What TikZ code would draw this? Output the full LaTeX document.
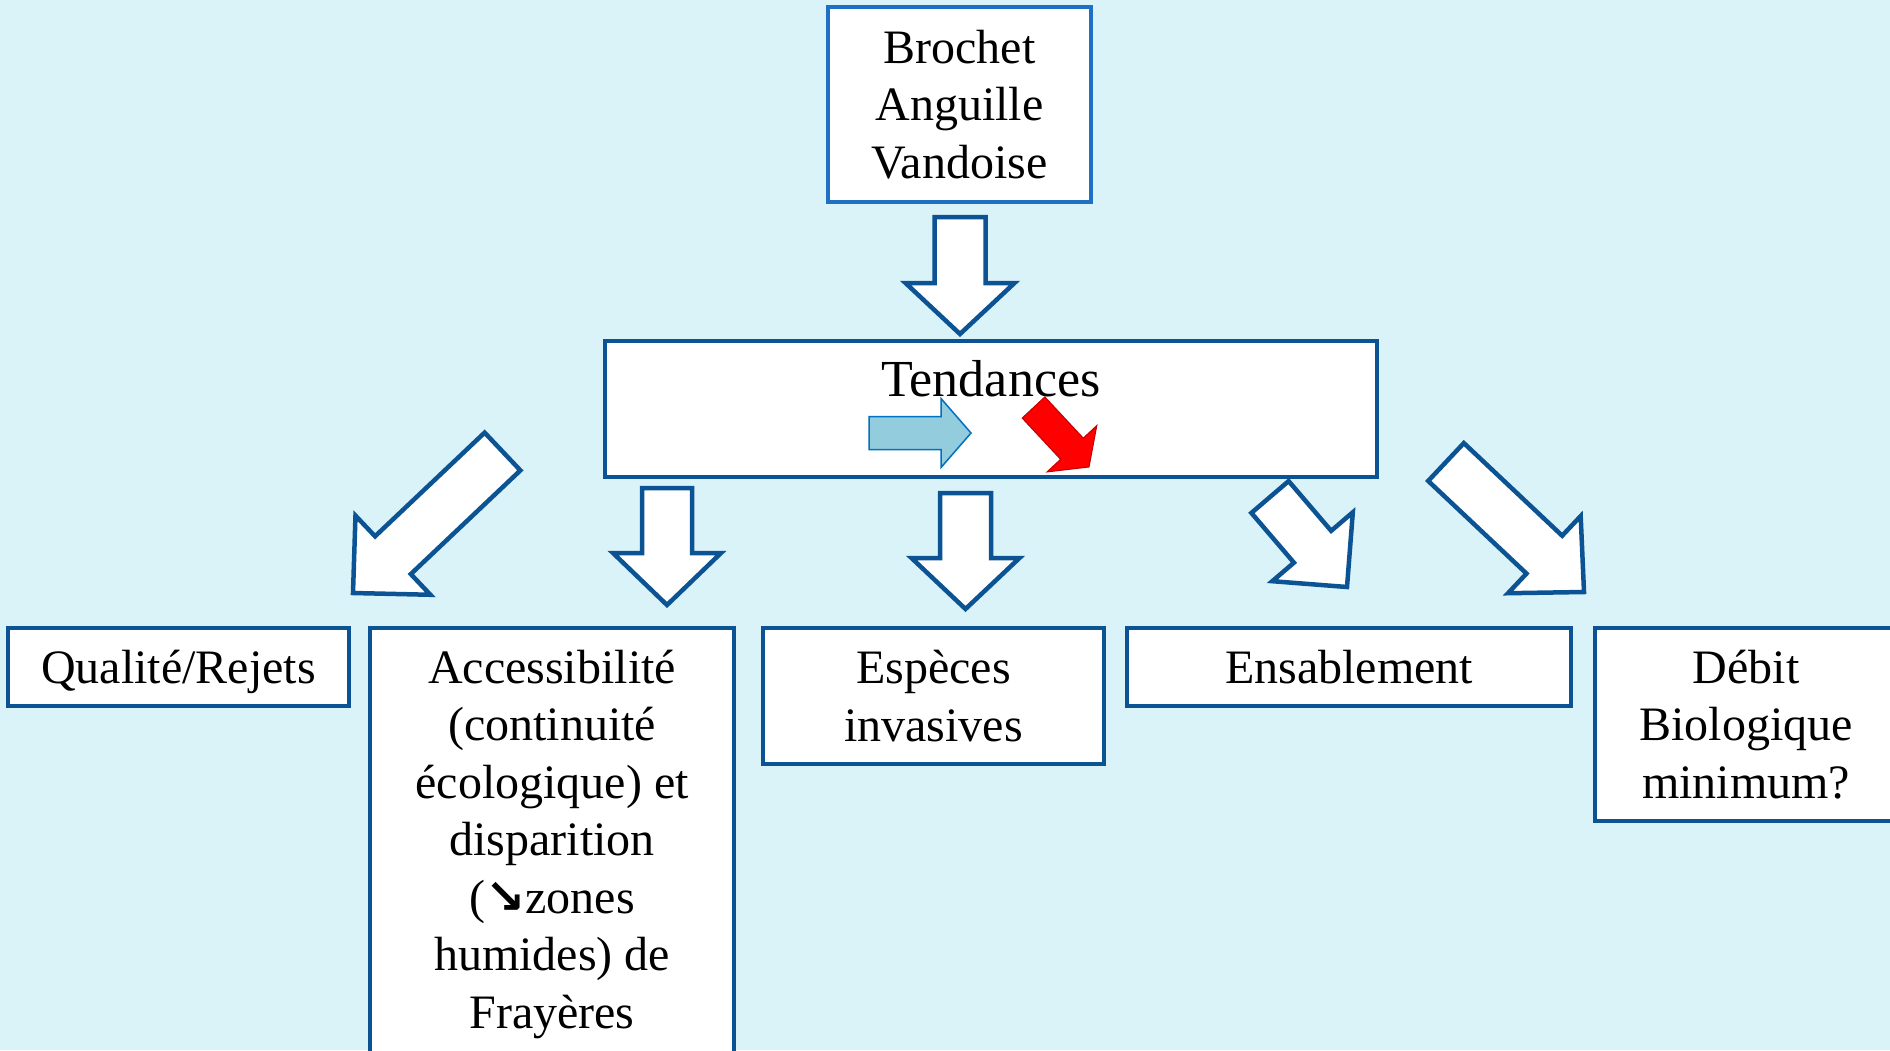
\documentclass[tikz,border=0pt]{standalone}
\usepackage{fontspec}
\setmainfont{Liberation Serif}
\newfontfamily\symfont{DejaVu Sans}
\usetikzlibrary{calc}
\definecolor{bgc}{HTML}{DAF3F8}
\definecolor{dkblue}{HTML}{0C5394}
\definecolor{ltblue}{HTML}{1F70C4}
\definecolor{arrfill}{HTML}{93CDDD}
\definecolor{arredge}{HTML}{0070C0}
\definecolor{redfill}{HTML}{FF0000}
\definecolor{rededge}{HTML}{C00000}
\newcommand\blockarrow[6]{%
  \coordinate (bh) at ($(#3)!#6pt!(#2)$);
  \draw[#1] ($(#2)!#4pt!90:(#3)$) -- ($(bh)!#4pt!90:(#3)$) -- ($(bh)!#5pt!90:(#3)$)
    -- (#3) -- ($(bh)!#5pt!-90:(#3)$) -- ($(bh)!#4pt!-90:(#3)$) -- ($(#2)!#4pt!-90:(#3)$) -- cycle;
}
\tikzset{
  box/.style={draw=dkblue, line width=4.5pt, fill=white, rectangle, inner sep=0pt},
  txt/.style={font=\fontsize{48}{57.5}\selectfont, align=center, anchor=base, inner sep=0pt},
  barrow/.style={draw=dkblue, fill=white, line width=4.5pt, line join=miter},
}
\begin{document}
\begin{tikzpicture}[x=1pt,y=-1pt]
\useasboundingbox (0,0) rectangle (1890,1050);
\fill[bgc] (0,0) rectangle (1890,1050);
\clip (0,0) rectangle (1890,1050);
% boxes
\node[box, draw=ltblue, minimum width=263pt, minimum height=195pt] (top) at (959.5,104.5) {};
\node[box, minimum width=772pt, minimum height=136pt] (tend) at (991,409) {};
\node[box, minimum width=341pt, minimum height=78pt] (qual) at (178.5,667) {};
\node[box, minimum width=364pt, minimum height=452pt] (acc) at (552,854) {};
\node[box, minimum width=341pt, minimum height=136pt] (esp) at (933.5,696) {};
\node[box, minimum width=444pt, minimum height=78pt] (ens) at (1349,667) {};
\node[box, minimum width=302pt, minimum height=193pt] (deb) at (1746,724.5) {};
% texts (anchor = baseline of the last line)
\node[txt] (ttop) at (959.5,178) {Brochet\\Anguille\\Vandoise};
\node[txt, font=\fontsize{52}{60}\selectfont] (ttend) at (991,396) {Tendances};
\node[txt] (tqual) at (178.5,683) {Qualité/Rejets};
\node[txt] (tacc) at (552,1028) {Accessibilité\\(continuité\\écologique) et\\disparition\\({\symfont\bfseries ↘}zones\\humides) de\\Frayères};
\node[txt] (tesp) at (933.5,741) {Espèces\\invasives};
\node[txt] (tens) at (1349,683) {Ensablement};
\node[txt] (tdeb) at (1746,798) {Débit\\Biologique\\minimum?};
% arrow coordinates
\coordinate (a1t) at (960,217);    \coordinate (a1h) at (960,334);
\coordinate (a2t) at (502.5,451.5);\coordinate (a2h) at (353,593);
\coordinate (a3t) at (667,488);    \coordinate (a3h) at (667,605);
\coordinate (a4t) at (965.5,493);  \coordinate (a4h) at (965.5,609);
\coordinate (a5t) at (1270,497);   \coordinate (a5h) at (1347,587);
\coordinate (a6t) at (1446,462);   \coordinate (a6h) at (1584,592);
\coordinate (a7t) at (869,433);    \coordinate (a7h) at (971,433);
\coordinate (a8t) at (1033.5,407.5);\coordinate (a8h) at (1089,467);
\blockarrow{barrow}{a1t}{a1h}{25.5}{54.5}{51}
\blockarrow{barrow}{a2t}{a2h}{26}{54.5}{55}
\blockarrow{barrow}{a3t}{a3h}{25}{54}{52}
\blockarrow{barrow}{a4t}{a4h}{25.5}{54}{51}
\blockarrow{barrow}{a5t}{a5h}{24.5}{53}{53}
\blockarrow{barrow}{a6t}{a6h}{26}{53}{54.5}
\blockarrow{draw=arredge, fill=arrfill, line width=1.5pt, line join=miter}{a7t}{a7h}{16.5}{34.5}{30}
\blockarrow{draw=rededge, fill=redfill, line width=1pt, line join=miter}{a8t}{a8h}{15.5}{34}{25}
\end{tikzpicture}
\end{document}
